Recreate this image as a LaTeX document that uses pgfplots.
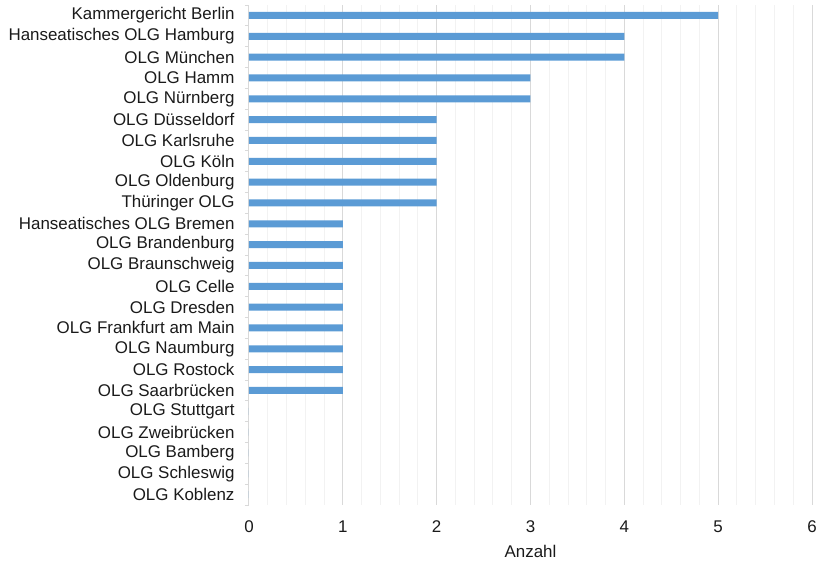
\documentclass[border=0pt]{standalone}
\usepackage{fontspec}
\setmainfont{Liberation Sans}
\usepackage{pgfplots}
\pgfplotsset{compat=1.18}
\usetikzlibrary{calc}

\definecolor{barblue}{HTML}{5B9BD5}
\definecolor{majgrid}{HTML}{D9D9D9}
\definecolor{mingrid}{HTML}{F2F2F2}
\definecolor{txt}{HTML}{1A1A1A}

\begin{document}
\begin{tikzpicture}
\begin{axis}[
    scale only axis,
    width=563bp, height=500bp,
    xbar, bar width=7bp,
    xmin=0, xmax=6,
    ymin=-0.5, ymax=23.5,
    y dir=reverse,
    xtick={0,...,6},
    minor x tick num=4,
    ytick={0,...,23},
    yticklabels={Kammergericht Berlin, Hanseatisches OLG Hamburg, OLG München, OLG Hamm, OLG Nürnberg, OLG Düsseldorf, OLG Karlsruhe, OLG Köln, OLG Oldenburg, Thüringer OLG, Hanseatisches OLG Bremen, OLG Brandenburg, OLG Braunschweig, OLG Celle, OLG Dresden, OLG Frankfurt am Main, OLG Naumburg, OLG Rostock, OLG Saarbrücken, OLG Stuttgart, OLG Zweibrücken, OLG Bamberg, OLG Schleswig, OLG Koblenz},
    minor ytick={-0.5,0.5,...,23.5},
    xmajorgrids, xminorgrids,
    major grid style={majgrid, line width=1bp},
    minor grid style={mingrid, line width=1bp},
    axis x line*=bottom,
    axis y line*=left,
    x axis line style={draw=none},
    y axis line style={majgrid, line width=1bp, -},
    tick align=outside,
    major tick length=0pt,
    minor tick length=4bp,
    minor x tick style={draw=none},
    minor y tick style={majgrid, line width=1bp},
    /pgf/number format/assume math mode=true,
    ticklabel style={font=\fontsize{17}{20}\selectfont, text=txt},
    yticklabel style={xshift=-11bp},
    xticklabel style={yshift=-12bp},
    xlabel={Anzahl},
    xlabel style={font=\fontsize{17}{20}\selectfont, text=txt, at={(axis description cs:0.5,0)}, anchor=center, yshift=-46bp},
]
\addplot[fill=barblue, draw=none] coordinates {
    (5,0) (4,1) (4,2) (3,3) (3,4) (2,5) (2,6) (2,7) (2,8) (2,9)
    (1,10) (1,11) (1,12) (1,13) (1,14) (1,15) (1,16) (1,17) (1,18)
    (0,19) (0,20) (0,21) (0,22) (0,23)
};
\coordinate (o) at (rel axis cs:0,0);
\end{axis}
\pgfresetboundingbox
\path[use as bounding box] ($(o)+(-249bp,-57bp)$) rectangle ($(o)+(571bp,505bp)$);
\end{tikzpicture}
\end{document}
